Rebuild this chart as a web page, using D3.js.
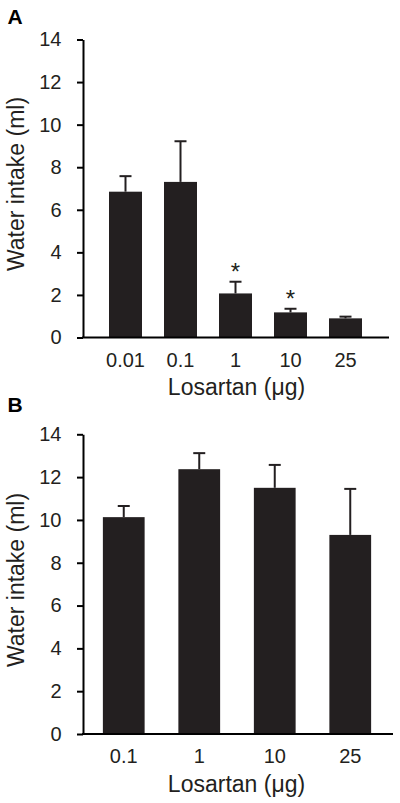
<!DOCTYPE html>
<html>
<head>
<meta charset="utf-8">
<script src="https://cdn.jsdelivr.net/npm/d3@7"></script>
<style>
  html, body { margin: 0; padding: 0; background: #fff; }
  svg { display: block; }
  text { font-family: "Liberation Sans", Arial, Helvetica, sans-serif; fill: #231f20; }
</style>
</head>
<body>
<svg id="chart" width="400" height="803"></svg>
<script>
// ---- Data ----
const categoriesA = ["0.01", "0.1", "1", "10", "25"];
const meansA = [6.85, 7.31, 2.07, 1.18, 0.90];
const errTopA = [7.58, 9.22, 2.62, 1.35, 0.98];
const starsA = [false, false, true, true, false];

const categoriesB = ["0.1", "1", "10", "25"];
const meansB = [10.13, 12.37, 11.50, 9.30];
const errTopB = [10.65, 13.12, 12.57, 11.45];
const starsB = [false, false, false, false];

const yTicks = [0, 2, 4, 6, 8, 10, 12, 14];
const yTitle = "Water intake (ml)";
const xTitle = "Losartan (\u03bcg)";

// ---- Drawing ----
const svg = d3.select("#chart");
const barColor = "#231f20";
const inkColor = "#000";

function panel(opts) {
  const g = svg.append("g");
  const y = d3.scaleLinear().domain([0, 14]).range([opts.y0, opts.y14]);
  const x = d3.scaleBand().domain(opts.cats).range(opts.bandRange)
    .paddingInner(opts.pInner).paddingOuter(opts.pInner / 2);

  // panel letter
  g.append("text").attr("x", 7.5).attr("y", opts.letterY)
    .attr("font-size", 21).attr("font-weight", "bold").style("fill", "#000")
    .text(opts.letter);

  // bars
  g.selectAll("rect.bar").data(opts.means).join("rect")
    .attr("class", "bar")
    .attr("x", (d, i) => x(opts.cats[i]))
    .attr("width", x.bandwidth())
    .attr("y", d => y(d))
    .attr("height", d => y(0) - y(d))
    .attr("fill", barColor);

  // error bars (upper only)
  const cap = 12;
  opts.errTop.forEach((e, i) => {
    const cx = x(opts.cats[i]) + x.bandwidth() / 2;
    g.append("line").attr("x1", cx).attr("x2", cx)
      .attr("y1", y(opts.means[i])).attr("y2", y(e))
      .attr("stroke", barColor).attr("stroke-width", 2);
    g.append("line").attr("x1", cx - cap / 2).attr("x2", cx + cap / 2)
      .attr("y1", y(e)).attr("y2", y(e))
      .attr("stroke", barColor).attr("stroke-width", 2);
    if (opts.stars[i]) {
      g.append("text").attr("x", cx).attr("y", y(e) - 2)
        .attr("text-anchor", "middle").attr("font-size", 24)
        .text("*");
    }
  });

  // y axis
  const yAxis = d3.axisLeft(y).tickValues(yTicks).tickSizeInner(6).tickSizeOuter(0).tickPadding(15.5);
  const ya = g.append("g").attr("transform", `translate(${opts.axisX},0)`).call(yAxis);
  ya.select(".domain").attr("stroke", inkColor).attr("stroke-width", 2);
  ya.selectAll(".tick line").attr("stroke", inkColor).attr("stroke-width", 2);
  ya.selectAll(".tick text").attr("font-size", 20).attr("font-family", null).style("fill", "#231f20");

  // x axis
  const xAxis = d3.axisBottom(x).tickSize(0).tickPadding(14.8);
  const xa = g.append("g").attr("transform", `translate(0,${opts.y0})`).call(xAxis);
  xa.select(".domain").remove();
  xa.selectAll(".tick text").attr("font-size", 20).attr("font-family", null).style("fill", "#231f20");
  g.append("line").attr("x1", opts.axisX - 1).attr("x2", opts.axisEnd)
    .attr("y1", opts.y0).attr("y2", opts.y0)
    .attr("stroke", inkColor).attr("stroke-width", 2);

  // titles
  g.append("text")
    .attr("transform", `translate(24,${opts.yTitleY}) rotate(-90)`)
    .attr("text-anchor", "middle").attr("font-size", 23)
    .text(yTitle);
  g.append("text")
    .attr("x", 236.5).attr("y", opts.y0 + 57.7)
    .attr("text-anchor", "middle").attr("font-size", 23)
    .text(xTitle);
}

panel({
  letter: "A", letterY: 24,
  cats: categoriesA, means: meansA, errTop: errTopA, stars: starsA,
  y0: 337.5, y14: 39.5, axisX: 83, axisEnd: 389,
  bandRange: [98, 373], pInner: 0.4, yTitleY: 184
});

panel({
  letter: "B", letterY: 412,
  cats: categoriesB, means: meansB, errTop: errTopB, stars: starsB,
  y0: 734, y14: 434.3, axisX: 83, axisEnd: 393,
  bandRange: [86, 388], pInner: 0.447, yTitleY: 580
});
</script>
</body>
</html>
